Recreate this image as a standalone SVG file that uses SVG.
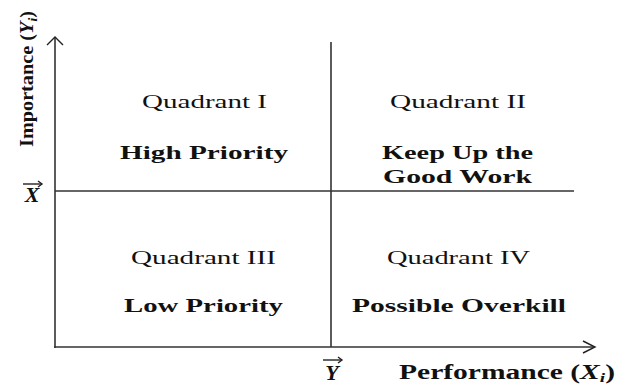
<svg xmlns="http://www.w3.org/2000/svg" width="630" height="385" viewBox="0 0 630 385">
<style>
text{font-family:"Liberation Serif","Times New Roman",serif;fill:#111}
.q{font-size:19px}
.b{font-size:19px;font-weight:bold}
.ax{font-size:19px;font-weight:bold}
.ln{stroke:#333;stroke-width:1.6;fill:none}
.ar{stroke:#222;stroke-width:1.4;fill:none}
</style>
<rect width="630" height="385" fill="#fff"/>
<g id="connectors">
<line class="ln" x1="55" y1="37" x2="55" y2="348"/>
<polyline class="ar" points="47,45 55,37 63,45"/>
<line class="ln" x1="54" y1="347" x2="594" y2="347"/>
<polyline class="ar" points="583,341 595,347 583,353"/>
<line class="ln" x1="331" y1="42" x2="331" y2="347"/>
<line class="ln" x1="55" y1="191" x2="574" y2="191"/>
</g>
<g id="q1">
<text class="q" x="204.5" y="108" text-anchor="middle" textLength="125" lengthAdjust="spacingAndGlyphs">Quadrant I</text>
<text class="b" x="204" y="159" text-anchor="middle" textLength="168" lengthAdjust="spacingAndGlyphs">High Priority</text>
</g>
<g id="q2">
<text class="q" x="458" y="108" text-anchor="middle" textLength="136" lengthAdjust="spacingAndGlyphs">Quadrant II</text>
<text class="b" x="457.5" y="159" text-anchor="middle" textLength="151" lengthAdjust="spacingAndGlyphs">Keep Up the</text>
<text class="b" x="457.5" y="183" text-anchor="middle" textLength="149" lengthAdjust="spacingAndGlyphs">Good Work</text>
</g>
<g id="q3">
<text class="q" x="203.5" y="264" text-anchor="middle" textLength="145" lengthAdjust="spacingAndGlyphs">Quadrant III</text>
<text class="b" x="203.5" y="312" text-anchor="middle" textLength="159" lengthAdjust="spacingAndGlyphs">Low Priority</text>
</g>
<g id="q4">
<text class="q" x="458.5" y="264" text-anchor="middle" textLength="143" lengthAdjust="spacingAndGlyphs">Quadrant IV</text>
<text class="b" x="459" y="312" text-anchor="middle" textLength="214" lengthAdjust="spacingAndGlyphs">Possible Overkill</text>
</g>
<g id="y-axis-label">
<text class="ax" transform="translate(33,147) rotate(-90)" x="0" y="0" textLength="136" lengthAdjust="spacingAndGlyphs">Importance (<tspan font-style="italic">Y</tspan><tspan font-style="italic" font-size="13" dy="4">i</tspan><tspan dy="-4">)</tspan></text>
</g>
<g id="x-bar">
<text class="ax" x="32" y="202" text-anchor="middle" style="font-style:italic;font-size:22px">X</text>
<line class="ar" x1="23" y1="184" x2="42" y2="184"/>
<polyline class="ar" points="38,181 42,184 38,187"/>
</g>
<g id="y-bar">
<text class="ax" x="332" y="380" text-anchor="middle" style="font-style:italic;font-size:22px">Y</text>
<line class="ar" x1="323" y1="360" x2="342" y2="360"/>
<polyline class="ar" points="338,357 342,360 338,363"/>
</g>
<g id="x-axis-label">
<text class="ax" x="399" y="379" style="font-size:20px" textLength="216" lengthAdjust="spacingAndGlyphs">Performance (<tspan font-style="italic">X</tspan><tspan font-style="italic" font-size="13" dy="3">i</tspan><tspan dy="-3">)</tspan></text>
</g>
</svg>
